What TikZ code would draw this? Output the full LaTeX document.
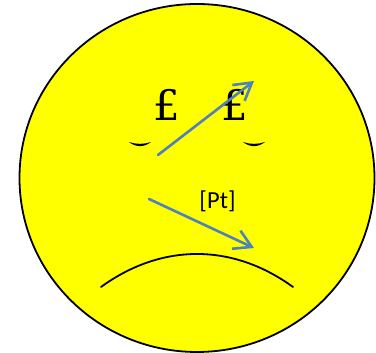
\documentclass[tikz,border=0pt]{standalone}
\usepackage{fontspec}
\setmainfont{Carlito}
\newfontfamily\eyefont{DejaVu Serif}
\usetikzlibrary{positioning, arrows.meta, shapes.geometric}
\definecolor{faceyellow}{RGB}{255,255,0}
\definecolor{arrowblue}{RGB}{79,129,189}

\begin{document}
\begin{tikzpicture}[x=1pt, y=1pt, line cap=round,
    eye/.style={inner sep=0pt, font=\eyefont\fontsize{42}{42}\selectfont},
    pointer/.style={arrowblue, line width=2.6pt, -{Straight Barb[length=17pt, width=20pt, line width=2.6pt]}}]
    \useasboundingbox (0,0) rectangle (376,353);
    \node[ellipse, draw, fill=faceyellow, line width=1.8pt, inner sep=0pt, outer sep=0pt, minimum width=355pt, minimum height=348pt] (face) at (197,175) {};
    \node[eye] (eyeL) at (166.5,248) {£};
    \node[eye, right=41.5pt of eyeL] (eyeR) {£};
    \node[inner sep=0pt, font=\fontsize{24.5}{24.5}\selectfont] (label) at (217.5,152) {[Pt]};
    % lids under the eyes
    \coordinate (lidLa) at (129,211);
    \coordinate (lidLb) at (151,211);
    \coordinate (lidRa) at (243,211);
    \coordinate (lidRb) at (265,211);
    \fill (lidLa) .. controls (136,205.5) and (144,205.5) .. (lidLb) .. controls (144,208.5) and (136,208.5) .. (lidLa);
    \fill (lidRa) .. controls (250,205.5) and (258,205.5) .. (lidRb) .. controls (258,208.5) and (250,208.5) .. (lidRa);
    % mouth
    \coordinate (mouthL) at (101,66);
    \coordinate (mouthR) at (293,66);
    \draw[line width=1.8pt] (mouthL) to[bend left=36] (mouthR);
    % arrows
    \coordinate (upS) at (158,198);
    \coordinate (upE) at (254,272);
    \coordinate (downS) at (149,154);
    \coordinate (downE) at (254,105);
    \draw[pointer] (upS) -- (upE);
    \draw[pointer] (downS) -- (downE);
\end{tikzpicture}
\end{document}
